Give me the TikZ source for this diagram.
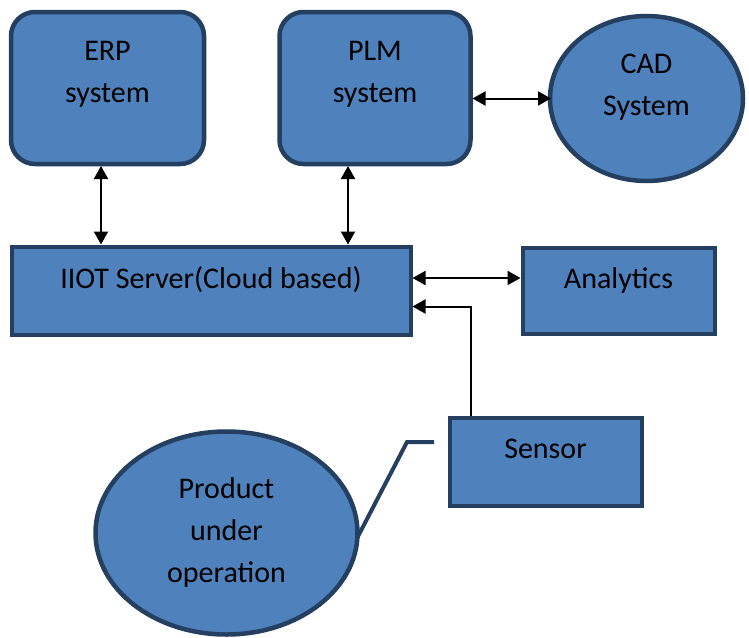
\documentclass[tikz,border=0pt]{standalone}
\usepackage{fontspec}
\setmainfont{Carlito}
\usetikzlibrary{shapes.geometric,arrows.meta}
\definecolor{fillblue}{HTML}{4F81BD}
\definecolor{edgeblue}{HTML}{243F60}
\tikzset{
  x=1pt,y=1pt,
  shapebase/.style={draw=edgeblue, fill=fillblue, line width=4.5pt, inner sep=0pt, outer sep=0pt},
  rbox/.style={shapebase, rectangle, rounded corners=24pt},
  sbox/.style={shapebase, rectangle, line width=4pt},
  oval/.style={shapebase, ellipse},
  lbl/.style={font=\fontsize{30}{42}\selectfont, text=black, align=center, anchor=base, inner sep=0pt},
  arr/.style={line width=2pt, {Triangle[length=13pt,width=14pt]}-{Triangle[length=13pt,width=14pt]}},
  onearr/.style={line width=2pt, -{Triangle[length=13pt,width=14pt]}},
  navyline/.style={draw=edgeblue, line width=4pt}
}
\begin{document}
\begin{tikzpicture}
\useasboundingbox (0,0) rectangle (749,-637);
% shapes
\node[rbox, minimum width=193pt, minimum height=152pt] (erp) at (107.5,-88) {};
\node[rbox, minimum width=191pt, minimum height=152pt] (plm) at (375,-88) {};
\node[oval, minimum width=193pt, minimum height=165pt] (cad) at (646.5,-98.5) {};
\node[sbox, minimum width=399pt, minimum height=88pt] (iiot) at (211,-290.5) {};
\node[sbox, minimum width=192pt, minimum height=86pt] (ana) at (618.5,-290.5) {};
\node[sbox, minimum width=192pt, minimum height=88pt] (sensor) at (545.5,-461.5) {};
\node[oval, minimum width=262pt, minimum height=203pt] (prod) at (226.5,-533) {};
% labels (anchor base = baseline of the last line)
\node[lbl] (erpt) at (107.5,-102) {ERP\\system};
\node[lbl] (plmt) at (375,-102) {PLM\\system};
\node[lbl] (cadt) at (646.5,-115) {CAD\\System};
\node[lbl] (iiott) at (211,-288) {IIOT Server(Cloud based)};
\node[lbl] (anat) at (618.5,-288) {Analytics};
\node[lbl] (sensort) at (545.5,-458) {Sensor};
\node[lbl] (prodt) at (226.5,-582) {Product\\under\\operation};
% connectors
\coordinate (erpa) at ([xshift=-6.5pt]erp.south);
\coordinate (plma) at ([xshift=-27pt]plm.south);
\draw[arr] ([yshift=-2pt]erpa) -- ([yshift=2pt]erpa |- iiot.north);
\draw[arr] ([yshift=-2pt]plma) -- ([yshift=2pt]plma |- iiot.north);
\draw[arr] ([xshift=2pt]plm.east |- cad.west) -- ([xshift=1pt]cad.west);
\draw[arr] ([xshift=2pt,yshift=12.5pt]iiot.east) -- ([xshift=-2pt,yshift=12.5pt]ana.west);
\coordinate (sens) at ([xshift=-75pt,yshift=2pt]sensor.north);
\coordinate (bend) at ([yshift=-16pt]iiot.east -| sens);
\draw[onearr] (sens) -- (bend) -- ([xshift=2pt,yshift=-16pt]iiot.east);
\coordinate (lk1) at (407,-442);
\coordinate (lk2) at (434,-442);
\draw[navyline] (prod.-2) -- (lk1) -- (lk2);
\end{tikzpicture}
\end{document}
